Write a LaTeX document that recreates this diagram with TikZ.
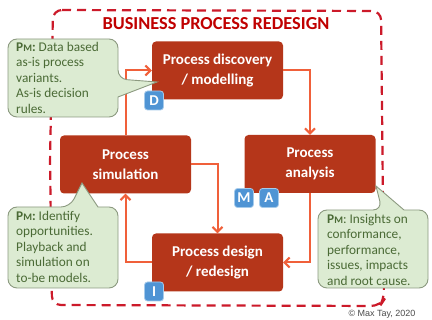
\documentclass[tikz,border=0pt]{standalone}
\usepackage{fontspec}
\setmainfont{Carlito}
\newfontfamily\arialfont{Liberation Sans}
\usetikzlibrary{arrows.meta,positioning}
\definecolor{boxred}{HTML}{B5361A}
\definecolor{arrowor}{HTML}{F0603A}
\definecolor{dashred}{HTML}{CC1A2A}
\definecolor{titlered}{HTML}{C00000}
\definecolor{callfill}{HTML}{DCEBD2}
\definecolor{calldraw}{HTML}{8C9A80}
\definecolor{calltext}{HTML}{4A6A35}
\definecolor{badgefill}{HTML}{4F94D4}
\definecolor{badgedraw}{HTML}{A6CBEB}
\newcommand{\pmlabel}{\textbf{P{\fontsize{10}{10}\selectfont M}:}}
\tikzset{
  procbox/.style={fill=boxred, rounded corners=4pt, text=white, font=\fontsize{15}{20}\selectfont\bfseries, align=center, minimum width=131pt, minimum height=58pt, inner sep=2pt},
  flow/.style={draw=arrowor, line width=2pt, -{Straight Barb[length=5pt,width=10pt,line width=2pt]}},
  callout/.style={fill=callfill, draw=calldraw, line width=0.9pt, rounded corners=9pt},
  calltxt/.style={text=calltext, font=\fontsize{13.3}{15.5}\selectfont, align=left, anchor=north west, inner sep=0pt},
  badge/.style={fill=badgefill, draw=badgedraw, line width=0.8pt, rounded corners=3pt, minimum width=19pt, minimum height=19pt, inner sep=0pt, text=white, font=\fontsize{15}{15}\selectfont\bfseries},
}
\begin{document}
\begin{tikzpicture}[x=1pt,y=-1pt]
\useasboundingbox (0,0) rectangle (432,320);
\fill[white] (0,0) rectangle (432,320);
% dashed frame
\draw[dashred, line width=2.2pt, dash pattern=on 9pt off 6pt, rounded corners=9pt]
  (53,10) -- (381,11) -- (384,300) -- (380,306) -- (52,305) -- (50,160) -- cycle;
\node[text=titlered, font=\fontsize{18.3}{18}\selectfont\bfseries] (title) at (216,24) {BUSINESS PROCESS REDESIGN};
% process boxes
\node[procbox] (disc) at (217.5,70.5) {Process discovery\\/ modelling};
\node[procbox] (anal) at (310,164) {Process\\analysis};
\node[procbox] (sim) at (125.5,164.5) {Process\\simulation};
\node[procbox] (des) at (217.5,262.5) {Process design\\/ redesign};
% flows
\draw[flow] (disc.east) -| (anal.north);
\draw[flow] (anal.south) |- (des.east);
\draw[flow] (des.west) -| (sim.south);
\draw[flow] (sim.north) |- (disc.west);
\draw[flow] (sim.east) -| (des.north);
% callouts
\draw[callout] (8,39) -- (118,39) -- (118,79) [sharp corners] -- (157,82) -- (118,97) [rounded corners=9pt] -- (118,117) -- (8,117) -- cycle;
\node[calltxt] (c1) at (16,42) {\pmlabel\ Data based\\as-is process\\variants.\\As-is decision\\rules.};
\draw[callout] (8,207) -- (70,207) [sharp corners] -- (82,183) -- (98,207) [rounded corners=9pt] -- (118,207) -- (118,288) -- (8,288) -- cycle;
\node[calltxt] (c2) at (16,211) {\pmlabel\ Identify\\opportunities.\\Playback and\\simulation on\\to-be models.};
\draw[callout] (318,210) -- (382,210) [sharp corners] -- (376,186) -- (404,210) [rounded corners=9pt] -- (428,210) -- (428,288) -- (318,288) -- cycle;
\node[calltxt] (c3) at (327,214) {\textbf{P{\fontsize{10}{10}\selectfont M}}: Insights on\\conformance,\\performance,\\issues, impacts\\and root cause.};
% badges
\node[badge] (bD) at (154,100.5) {D};
\node[badge] (bM) at (244,198) {M};
\node[badge] (bA) at (269,198) {A};
\node[badge] (bI) at (154,291.5) {I};
% copyright
\node[text=black!70, font=\arialfont\fontsize{9}{9}\selectfont] (copy) at (382,314) {© Max Tay, 2020};
\end{tikzpicture}
\end{document}
